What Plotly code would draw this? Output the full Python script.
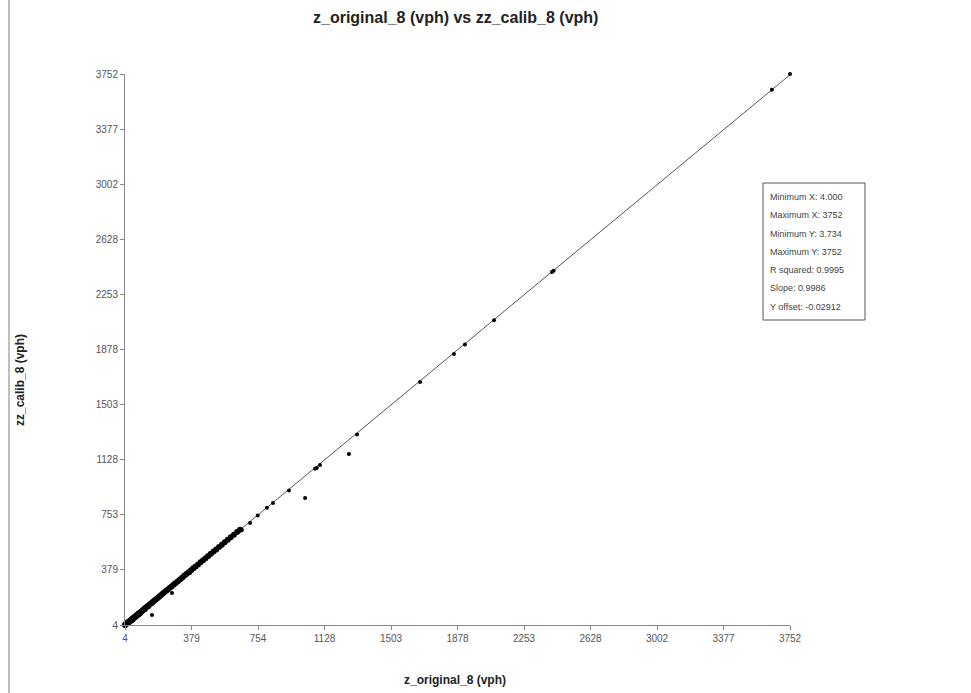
import plotly.graph_objects as go

# ---- data ----
cluster_x = [4, 6, 8, 10, 12, 15, 18, 20, 23, 26, 30, 33, 36, 40, 44, 48, 52, 56, 60, 65, 70, 75,
             80, 86, 92, 98, 104, 110, 117, 124, 131, 138, 146, 154, 162, 170, 179, 188, 197, 206,
             216, 226, 236, 246, 257, 268, 279, 290, 302, 314, 326, 338, 350, 363, 376, 389, 402,
             416, 430, 444, 458, 473, 488, 503, 518, 534, 550, 566, 583, 600, 618, 636, 652]
cluster_y = [4, 6, 8, 10, 12, 15, 18, 20, 23, 26, 30, 33, 36, 40, 44, 48, 52, 56, 60, 65, 70, 75,
             80, 86, 92, 98, 104, 110, 117, 124, 131, 138, 146, 154, 162, 170, 179, 188, 197, 206,
             216, 226, 236, 246, 257, 268, 279, 290, 302, 314, 326, 338, 350, 363, 376, 389, 402,
             416, 430, 444, 458, 473, 488, 503, 518, 534, 550, 566, 583, 600, 618, 636, 652]

low_x = [20, 25, 30, 35, 40, 45, 50, 55, 60, 70, 80, 85, 95, 100, 120, 140, 156, 160, 200, 269, 370]
low_y = [10, 14, 18, 22, 28, 30, 35, 42, 48, 55, 66, 70, 80, 88, 105, 128, 72, 150, 190, 221, 357]

upper_x = [663, 709, 752, 804, 838, 928, 1019, 1075, 1085, 1103, 1266, 1312, 1667, 1858, 1920,
           2084, 2410, 2420, 3650, 3752]
upper_y = [650, 697, 748, 802, 834, 918, 868, 1066, 1072, 1092, 1167, 1300, 1657, 1848, 1912,
           2076, 2405, 2414, 3645, 3752]

x_tickvals = [4, 378.8, 753.6, 1128.4, 1503.2, 1878, 2252.8, 2627.6, 3002.4, 3377.2, 3752]
x_ticktext = ["4", "379", "754", "1128", "1503", "1878", "2253", "2628", "3002", "3377", "3752"]
y_tickvals = [3.734, 378.56, 753.39, 1128.2, 1503.0, 1877.9, 2252.7, 2627.5, 3002.3, 3377.2, 3752]
y_ticktext = ["4", "379", "753", "1128", "1503", "1878", "2253", "2628", "3002", "3377", "3752"]

x_min, x_max = 4.0, 3752
y_min, y_max = 3.734, 3752
slope, offset = 0.9986, -0.02912

stats_lines = ["Minimum X: 4.000", "Maximum X: 3752", "Minimum Y: 3.734", "Maximum Y: 3752",
               "R squared: 0.9995", "Slope: 0.9986", "Y offset: -0.02912"]

title = "z_original_8 (vph) vs zz_calib_8 (vph)"
x_title = "z_original_8 (vph)"
y_title = "zz_calib_8 (vph)"

FONT = "Liberation Sans, Arial, sans-serif"

fig = go.Figure()
fig.add_trace(go.Scatter(x=[x_min, x_max], y=[slope * x_min + offset, slope * x_max + offset],
                         mode="lines", line=dict(color="#555555", width=1),
                         hoverinfo="skip", showlegend=False))
fig.add_trace(go.Scatter(x=cluster_x, y=cluster_y, mode="markers",
                         marker=dict(color="black", size=6, symbol="circle"),
                         cliponaxis=False, showlegend=False))
fig.add_trace(go.Scatter(x=low_x, y=low_y, mode="markers",
                         marker=dict(color="black", size=4, symbol="circle"),
                         cliponaxis=False, showlegend=False))
fig.add_trace(go.Scatter(x=upper_x, y=upper_y, mode="markers",
                         marker=dict(color="black", size=4, symbol="circle"),
                         cliponaxis=False, showlegend=False))

W, H = 971, 693
L, R, T, B = 125, 790, 74, 625

def px_x(p):
    return (p - L) / (R - L)

def px_y(p):
    return (B - p) / (B - T)

axis_common = dict(showgrid=False, zeroline=False, showline=True, linecolor="#888888",
                   linewidth=1, ticks="outside", ticklen=4, tickcolor="#888888",
                   tickfont=dict(family=FONT, size=10, color="#555555"), mirror=False)

fig.update_layout(
    width=W, height=H,
    margin=dict(l=L, r=W - R, t=T, b=H - B),
    plot_bgcolor="white", paper_bgcolor="white",
    showlegend=False,
    xaxis=dict(range=[x_min, x_max], tickvals=x_tickvals, ticktext=x_ticktext, **axis_common),
    yaxis=dict(range=[y_min, y_max], tickvals=y_tickvals, ticktext=y_ticktext, **axis_common),
)

annotations = [
    dict(text="<b>" + title + "</b>", xref="paper", yref="paper", x=px_x(455), y=px_y(18),
         showarrow=False, font=dict(family=FONT, size=16, color="#222222"),
         xanchor="center", yanchor="middle"),
    dict(text="<b>" + x_title + "</b>", xref="paper", yref="paper", x=px_x(455), y=px_y(680),
         showarrow=False, font=dict(family=FONT, size=12, color="#222222"),
         xanchor="center", yanchor="middle"),
    dict(text="<b>" + y_title + "</b>", xref="paper", yref="paper", x=px_x(20), y=px_y(380),
         showarrow=False, textangle=-90, font=dict(family=FONT, size=12, color="#222222"),
         xanchor="center", yanchor="middle"),
]
line_y = [197, 215, 234, 252, 270, 288, 307]
for txt, yy in zip(stats_lines, line_y):
    annotations.append(dict(text=txt, xref="paper", yref="paper", x=px_x(768), y=px_y(yy),
                            showarrow=False, xanchor="left", yanchor="middle",
                            font=dict(family=FONT, size=9, color="#444444")))
fig.update_layout(annotations=annotations)

fig.add_shape(type="rect", xref="paper", yref="paper",
              x0=px_x(763), x1=px_x(865), y0=px_y(320), y1=px_y(183),
              line=dict(color="#555555", width=1), fillcolor="rgba(0,0,0,0)")
fig.add_shape(type="line", xref="paper", yref="paper",
              x0=px_x(9), x1=px_x(9), y0=px_y(0), y1=px_y(693),
              line=dict(color="#aaaaaa", width=1.5))

fig.write_html("out.html", config={"displayModeBar": False},
               post_script="document.body.style.margin='0';document.body.style.overflow='hidden';")
